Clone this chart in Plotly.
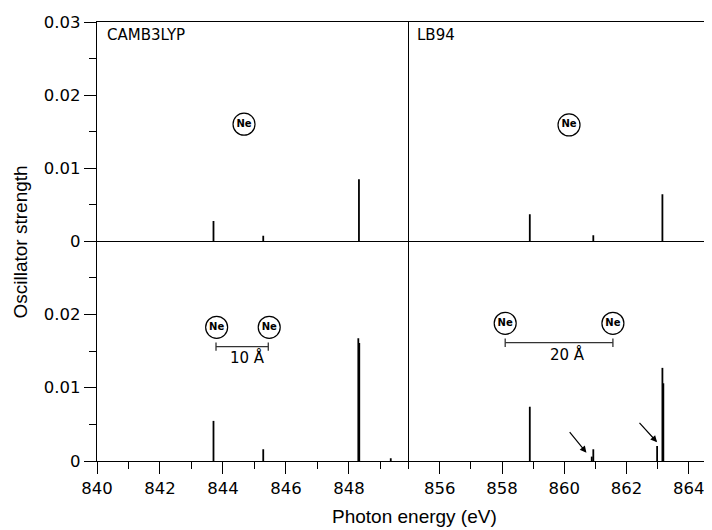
import plotly.graph_objects as go

# ---------------- data ----------------
# stick spectra: photon energy (eV) and oscillator strength
cam_top_x = [843.70, 845.28, 848.32]
cam_top_f = [0.00274, 0.00073, 0.00845]
lb_top_x = [858.89, 860.93, 863.15]
lb_top_f = [0.00366, 0.00078, 0.00640]
cam_bot_x = [843.70, 845.28, 848.30, 848.33, 849.33]
cam_bot_f = [0.00547, 0.00160, 0.01673, 0.01610, 0.00037]
lb_bot_x = [858.89, 860.88, 860.93, 862.98, 863.15, 863.18]
lb_bot_f = [0.00740, 0.00060, 0.00160, 0.00205, 0.01270, 0.01060]

panel_labels = ["CAMB3LYP", "LB94"]
x_title = "Photon energy (eV)"
y_title = "Oscillator strength"

left_major = [840, 842, 844, 846, 848]
left_minor = [841, 843, 845, 847, 849]
right_major = [856, 858, 860, 862, 864]
right_minor = [855, 857, 859, 861, 863]
y_top_ticks = [0, 0.01, 0.02, 0.03]
y_top_text = ["0", "0.01", "0.02", "0.03"]
y_bot_ticks = [0, 0.01, 0.02]
y_bot_text = ["0", "0.01", "0.02"]
y_minor = [0.005, 0.015, 0.025]

# ---------------- layout constants ----------------
W, H = 712, 530
OFF = 8  # page body margin offset of the figure in the window
ML, MR, MT, MB = 89, 0, 14, 77
PW = W - ML - MR
PH = H - MT - MB
D = (408.7 - OFF - ML) / PW  # column split (paper)
S = (H - MB - (241 - OFF)) / PH  # row split (paper)
LEFT_RANGE = [840, 849.9]
RIGHT_RANGE = [855, 865]
Y_RANGE = [0, 0.03]

TICKFONT = dict(family="DejaVu Sans", size=16.5, color="black")
TITLEFONT = dict(family="Liberation Sans, Arial", size=19, color="black")
LW = 1.3


def px(xw):
    return (xw - OFF - ML) / PW


def py(yw):
    return (H - MB - (yw - OFF)) / PH


def sticks(xs, fs):
    X, Y = [], []
    for x, f in zip(xs, fs):
        X += [x, x, None]
        Y += [0, f, None]
    return X, Y


fig = go.Figure()

for xs, fs, xa, ya in [
    (cam_top_x, cam_top_f, "x", "y"),
    (lb_top_x, lb_top_f, "x2", "y2"),
    (cam_bot_x, cam_bot_f, "x3", "y3"),
    (lb_bot_x, lb_bot_f, "x4", "y4"),
]:
    X, Y = sticks(xs, fs)
    fig.add_trace(go.Scatter(x=X, y=Y, mode="lines", xaxis=xa, yaxis=ya,
                             line=dict(color="black", width=1.8),
                             hoverinfo="skip", showlegend=False))

# Ne atom markers (circles with text)
ne_groups = [
    ([844.67], [0.0160], "x", "y"),
    ([860.15], [0.0159], "x2", "y2"),
    ([843.80, 845.47], [0.01823, 0.01823], "x3", "y3"),
    ([858.10, 861.56], [0.01878, 0.01878], "x4", "y4"),
]
for xs, ys, xa, ya in ne_groups:
    fig.add_trace(go.Scatter(
        x=xs, y=ys, mode="markers+text", xaxis=xa, yaxis=ya,
        text=["<b>Ne</b>"] * len(xs), textposition="middle center",
        textfont=dict(family="DejaVu Sans", size=10, color="black"),
        marker=dict(symbol="circle", size=22, color="white",
                    line=dict(color="black", width=1.2)),
        hoverinfo="skip", showlegend=False, cliponaxis=False))

# scale bars
scale_bars = [
    ([843.78, 845.44], 0.01559, "x3", "y3", "10 Å", 844.78, 0.01418),
    ([858.10, 861.56], 0.01613, "x4", "y4", "20 Å", 860.09, 0.01459),
]
for xs, yv, xa, ya, lab, lx, ly in scale_bars:
    fig.add_trace(go.Scatter(
        x=xs, y=[yv, yv], mode="lines+markers", xaxis=xa, yaxis=ya,
        line=dict(color="#333333", width=1.3),
        marker=dict(symbol="line-ns-open", size=6,
                    line=dict(color="#333333", width=1.3)),
        hoverinfo="skip", showlegend=False))
    fig.add_annotation(x=lx, y=ly, xref=xa, yref=ya, text=lab, showarrow=False,
                       font=dict(family="DejaVu Sans", size=15, color="black"),
                       xanchor="center", yanchor="middle")

# arrows
arrows = [(860.71, 0.00113, -18, -22), (862.98, 0.00255, -19, -21)]
for x, y, ax, ay in arrows:
    fig.add_annotation(x=x, y=y, xref="x4", yref="y4", ax=ax, ay=ay,
                       text="", showarrow=True, arrowhead=2, arrowsize=1.1,
                       arrowwidth=1.2, arrowcolor="black")

# panel labels
fig.add_annotation(x=px(105), y=py(35), xref="paper", yref="paper",
                   text=panel_labels[0], showarrow=False, xanchor="left", yanchor="middle",
                   font=dict(family="DejaVu Sans", size=15, color="black"))
fig.add_annotation(x=px(415), y=py(35), xref="paper", yref="paper",
                   text=panel_labels[1], showarrow=False, xanchor="left", yanchor="middle",
                   font=dict(family="DejaVu Sans", size=15, color="black"))

# axis titles
fig.add_annotation(x=px(414), y=py(516), xref="paper", yref="paper",
                   text=x_title, showarrow=False, xanchor="center", yanchor="middle",
                   font=TITLEFONT)
fig.add_annotation(x=px(20.5), y=py(242), xref="paper", yref="paper",
                   text=y_title, showarrow=False, xanchor="center", yanchor="middle",
                   textangle=-90, font=TITLEFONT)

common_line = dict(showline=True, linecolor="black", linewidth=LW, showgrid=False,
                   zeroline=False, automargin=False)

xtop = dict(**common_line, mirror=True, ticks="", showticklabels=False)
xbot_tick = dict(ticks="outside", ticklen=12, tickwidth=LW, tickcolor="black",
                 tickfont=TICKFONT, tickmode="array")

fig.update_layout(
    width=W, height=H,
    margin=dict(l=ML, r=MR, t=MT, b=MB, autoexpand=False),
    paper_bgcolor="white", plot_bgcolor="white",
    showlegend=False,
    xaxis=dict(**xtop, domain=[0, D], range=LEFT_RANGE, anchor="y"),
    xaxis2=dict(**xtop, domain=[D, 1], range=RIGHT_RANGE, anchor="y2"),
    xaxis3=dict(**common_line, **xbot_tick, domain=[0, D], range=LEFT_RANGE, anchor="y3",
                tickvals=left_major, ticktext=[str(v) for v in left_major],
                minor=dict(tickvals=left_minor, ticks="outside", ticklen=7,
                           tickwidth=LW, tickcolor="black")),
    xaxis4=dict(**common_line, **xbot_tick, domain=[D, 1], range=RIGHT_RANGE, anchor="y4",
                tickvals=right_major, ticktext=[str(v) for v in right_major],
                minor=dict(tickvals=right_minor, ticks="outside", ticklen=7,
                           tickwidth=LW, tickcolor="black")),
    yaxis=dict(**common_line, domain=[S, 1], range=Y_RANGE, anchor="x",
               ticks="outside", ticklen=12, tickwidth=LW, tickcolor="black",
               tickfont=TICKFONT, tickmode="array", tickvals=y_top_ticks, ticktext=y_top_text,
               minor=dict(tickvals=y_minor, ticks="outside", ticklen=7, tickwidth=LW,
                          tickcolor="black")),
    yaxis2=dict(**common_line, domain=[S, 1], range=Y_RANGE, anchor="x2",
                ticks="", showticklabels=False),
    yaxis3=dict(**common_line, domain=[0, S], range=Y_RANGE, anchor="x3",
                ticks="outside", ticklen=12, tickwidth=LW, tickcolor="black",
                tickfont=TICKFONT, tickmode="array", tickvals=y_bot_ticks, ticktext=y_bot_text,
                minor=dict(tickvals=y_minor, ticks="outside", ticklen=7, tickwidth=LW,
                           tickcolor="black")),
    yaxis4=dict(**common_line, domain=[0, S], range=Y_RANGE, anchor="x4",
                ticks="", showticklabels=False),
)

fig.write_html("out.html")
